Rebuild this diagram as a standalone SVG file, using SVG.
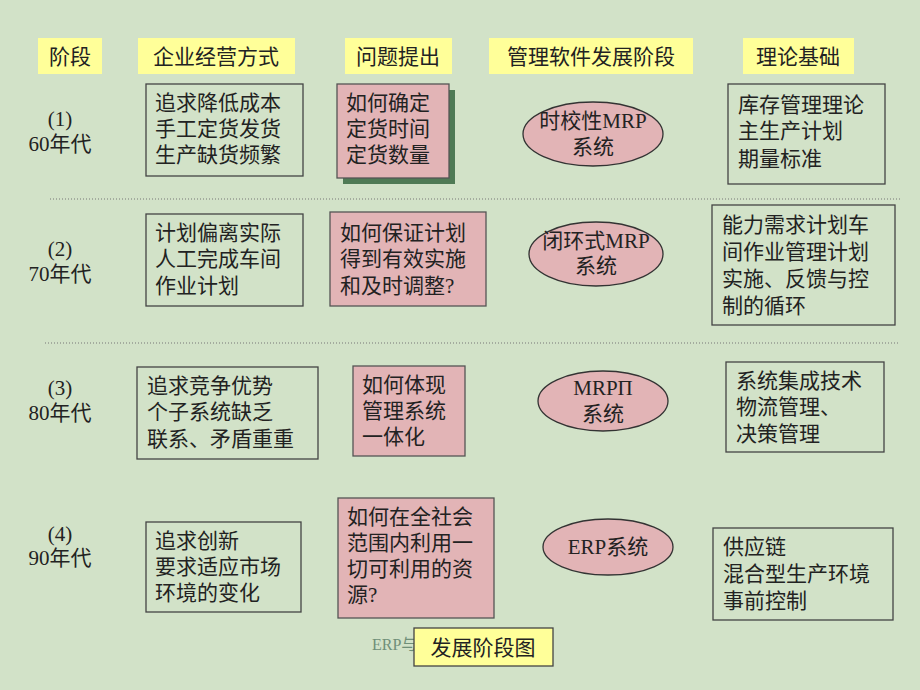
<svg xmlns="http://www.w3.org/2000/svg" width="920" height="690" viewBox="0 0 920 690">
<style>
text{font-family:"Liberation Serif","Noto Sans CJK SC",serif;font-size:21px;fill:#222}
.h{fill:#ffff99}
.b{fill:none;stroke:#444;stroke-width:1.3}
.p{fill:#e2b4b6;stroke:#555;stroke-width:1.3}
.e{fill:#e2b4b6;stroke:#333;stroke-width:1.3}
.sep{stroke:#777;stroke-width:1;stroke-dasharray:1 2}
.c{text-anchor:middle}
</style>
<rect width="920" height="690" fill="#d2e2c8"/>
<g id="headers">
<rect class="h" x="38" y="38" width="64" height="36"/><text class="c" x="70" y="64">阶段</text>
<rect class="h" x="138" y="38" width="157" height="36"/><text class="c" x="216" y="64">企业经营方式</text>
<rect class="h" x="345" y="38" width="107" height="36"/><text class="c" x="398" y="64">问题提出</text>
<rect class="h" x="489" y="38" width="204" height="36"/><text class="c" x="591" y="64">管理软件发展阶段</text>
<rect class="h" x="743" y="38" width="111" height="36"/><text class="c" x="798" y="64">理论基础</text>
</g>
<g id="separators">
<line class="sep" x1="50" y1="199" x2="900" y2="199"/>
<line class="sep" x1="45" y1="343" x2="900" y2="343"/>
</g>
<g id="row1">
<text class="c" x="60" y="126">(1)</text><text class="c" x="60" y="151">60年代</text>
<rect class="b" x="146" y="84" width="157" height="92"/>
<text x="155" y="110">追求降低成本</text><text x="155" y="136">手工定货发货</text><text x="155" y="162">生产缺货频繁</text>
<rect x="343" y="90" width="112" height="94" fill="#4f7a55"/>
<rect class="p" x="337" y="84" width="112" height="94"/>
<text x="346" y="110">如何确定</text><text x="346" y="136">定货时间</text><text x="346" y="162">定货数量</text>
<ellipse class="e" cx="593" cy="134" rx="70" ry="32"/>
<text class="c" x="593" y="128">时校性MRP</text><text class="c" x="593" y="154">系统</text>
<rect class="b" x="728" y="84" width="157" height="100"/>
<text x="738" y="112">库存管理理论</text><text x="738" y="138">主生产计划</text><text x="738" y="166">期量标准</text>
</g>
<g id="row2">
<text class="c" x="60" y="256">(2)</text><text class="c" x="60" y="281">70年代</text>
<rect class="b" x="146" y="214" width="157" height="92"/>
<text x="155" y="240">计划偏离实际</text><text x="155" y="266">人工完成车间</text><text x="155" y="293">作业计划</text>
<rect class="p" x="330" y="212" width="156" height="94"/>
<text x="340" y="240">如何保证计划</text><text x="340" y="266">得到有效实施</text><text x="340" y="293">和及时调整?</text>
<ellipse class="e" cx="596" cy="254" rx="67" ry="32"/>
<text class="c" x="596" y="248">闭环式MRP</text><text class="c" x="596" y="273">系统</text>
<rect class="b" x="712" y="205" width="183" height="120"/>
<text x="722" y="232">能力需求计划车</text><text x="722" y="259">间作业管理计划</text><text x="722" y="286">实施、反馈与控</text><text x="722" y="313">制的循环</text>
</g>
<g id="row3">
<text class="c" x="60" y="395">(3)</text><text class="c" x="60" y="420">80年代</text>
<rect class="b" x="137" y="367" width="181" height="92"/>
<text x="147" y="393">追求竞争优势</text><text x="147" y="419">个子系统缺乏</text><text x="147" y="446">联系、矛盾重重</text>
<rect class="p" x="353" y="366" width="112" height="90"/>
<text x="362" y="392">如何体现</text><text x="362" y="418">管理系统</text><text x="362" y="444">一体化</text>
<ellipse class="e" cx="603" cy="401" rx="65" ry="30"/>
<text class="c" x="603" y="395">MRPП</text><text class="c" x="603" y="421">系统</text>
<rect class="b" x="726" y="362" width="158" height="90"/>
<text x="736" y="388">系统集成技术</text><text x="736" y="414">物流管理、</text><text x="736" y="441">决策管理</text>
</g>
<g id="row4">
<text class="c" x="60" y="541">(4)</text><text class="c" x="60" y="565">90年代</text>
<rect class="b" x="146" y="522" width="155" height="90"/>
<text x="155" y="548">追求创新</text><text x="155" y="574">要求适应市场</text><text x="155" y="600">环境的变化</text>
<rect class="p" x="338" y="498" width="156" height="120"/>
<text x="347" y="524">如何在全社会</text><text x="347" y="550">范围内利用一</text><text x="347" y="576">切可利用的资</text><text x="347" y="602">源?</text>
<ellipse class="e" cx="608" cy="547" rx="65" ry="28"/>
<text class="c" x="608" y="554">ERP系统</text>
<rect class="b" x="713" y="528" width="180" height="92"/>
<text x="723" y="554">供应链</text><text x="723" y="581">混合型生产环境</text><text x="723" y="608">事前控制</text>
</g>
<g id="caption">
<text x="372" y="650" style="font-size:16px;fill:#6f8f78">ERP与</text>
<rect x="414" y="628" width="139" height="38" fill="#ffff99" stroke="#444" stroke-width="1.3"/>
<text class="c" x="483" y="655">发展阶段图</text>
</g>
</svg>
